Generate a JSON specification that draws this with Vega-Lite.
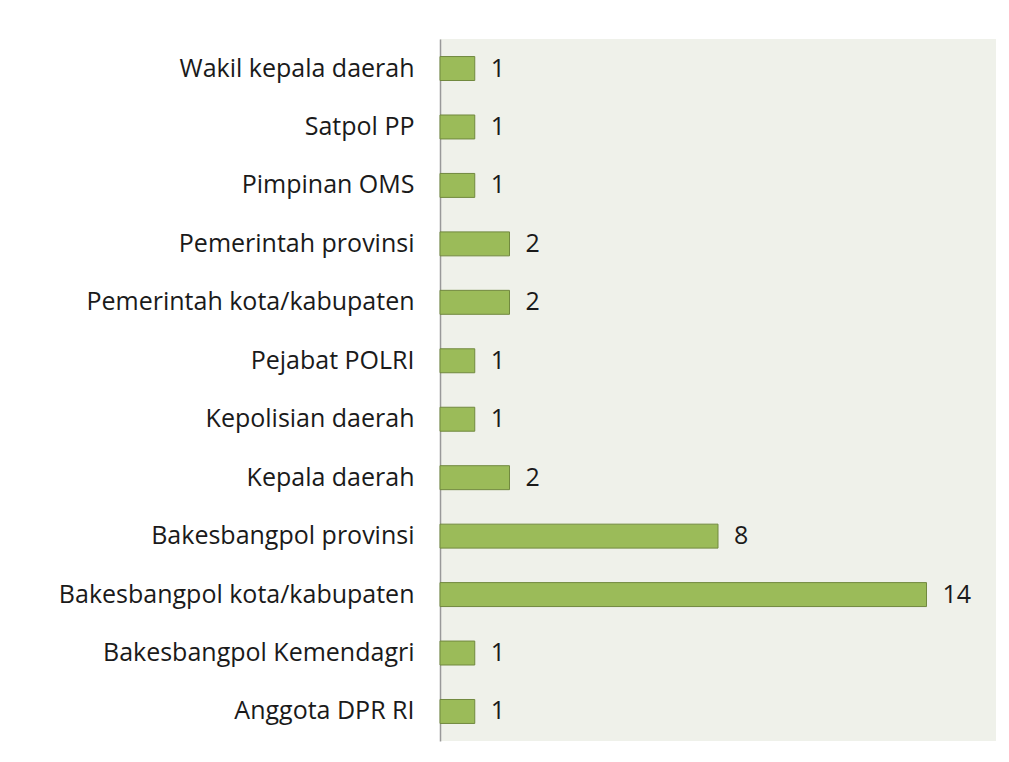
{
  "$schema": "https://vega.github.io/schema/vega-lite/v6.json",
  "autosize": "none",
  "width": 556,
  "height": 702,
  "padding": {"left": 440, "top": 39, "right": 13, "bottom": 21},
  "background": "white",
  "config": {
    "view": {"fill": "#eff1ea", "stroke": null},
    "font": "Open Sans"
  },
  "data": {
    "values": [
      {"kategori": "Wakil kepala daerah", "jumlah": 1},
      {"kategori": "Satpol PP", "jumlah": 1},
      {"kategori": "Pimpinan OMS", "jumlah": 1},
      {"kategori": "Pemerintah provinsi", "jumlah": 2},
      {"kategori": "Pemerintah kota/kabupaten", "jumlah": 2},
      {"kategori": "Pejabat POLRI", "jumlah": 1},
      {"kategori": "Kepolisian daerah", "jumlah": 1},
      {"kategori": "Kepala daerah", "jumlah": 2},
      {"kategori": "Bakesbangpol provinsi", "jumlah": 8},
      {"kategori": "Bakesbangpol kota/kabupaten", "jumlah": 14},
      {"kategori": "Bakesbangpol Kemendagri", "jumlah": 1},
      {"kategori": "Anggota DPR RI", "jumlah": 1}
    ]
  },
  "encoding": {
    "y": {
      "field": "kategori",
      "type": "nominal",
      "sort": "descending",
      "scale": {"paddingInner": 0.59, "paddingOuter": 0.3},
      "axis": {
        "title": null,
        "ticks": false,
        "domain": true,
        "domainColor": "#999999",
        "domainWidth": 1.5,
        "labelFontSize": 25,
        "labelColor": "#1a1a1a",
        "labelPadding": 26,
        "labelFont": "Open Sans",
        "labelLimit": 500
      }
    },
    "x": {
      "field": "jumlah",
      "type": "quantitative",
      "scale": {"domain": [0, 16]},
      "axis": null
    }
  },
  "layer": [
    {
      "mark": {"type": "bar", "fill": "#9bbb59", "stroke": "#71893f", "strokeWidth": 1}
    },
    {
      "mark": {"type": "text", "align": "left", "dx": 16, "fontSize": 25, "color": "#1a1a1a", "font": "Open Sans"},
      "encoding": {"text": {"field": "jumlah", "type": "quantitative"}}
    }
  ]
}
